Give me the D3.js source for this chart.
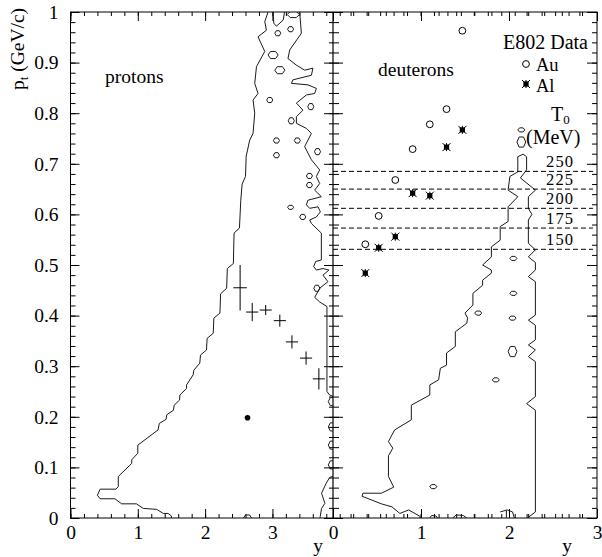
<!DOCTYPE html>
<html>
<head>
<meta charset="utf-8">
<script src="https://cdn.jsdelivr.net/npm/d3@7"></script>
<style>
  body { margin: 0; background: #fff; }
  text { font-family: "Liberation Serif", "Times New Roman", serif; fill: #000; }
</style>
</head>
<body>
<svg id="chart" width="602" height="557"></svg>
<script>
// ---------- data ----------
const ptTickValues = [0, 0.1, 0.2, 0.3, 0.4, 0.5, 0.6, 0.7, 0.8, 0.9, 1];
const yTickLeft = [0, 1, 2, 3];
const yTickRight = [0, 1, 2, 3];

// protons: measured points with error bars
const protonY    = [2.52, 2.70, 2.90, 3.11, 3.29, 3.50, 3.69];
const protonPt   = [0.455, 0.407, 0.411, 0.390, 0.348, 0.316, 0.275];
const protonErrY = [0.10, 0.09, 0.09, 0.09, 0.09, 0.09, 0.09];
const protonErrPt= [0.045, 0.018, 0.010, 0.012, 0.013, 0.013, 0.021];
const protonDot  = [[2.63, 0.198]];

// deuterons, E802 data
const deutY   = [0.367, 0.519, 0.708, 0.905, 1.10, 1.29, 1.47];
const auPt    = [0.541, 0.597, 0.668, 0.729, 0.778, 0.808, 0.963];
const alPt    = [0.484, 0.534, 0.556, 0.642, 0.637, 0.733, 0.767];

// freeze-out temperature lines
const t0Labels = ["250", "225", "200", "175", "150"];
const t0Pt     = [0.685, 0.650, 0.612, 0.573, 0.531];

// proton acceptance contour (rapidity, pt)
const protonEdgeLeft = [
  [1.50,0],[1.50,0.004],[1.45,0.009],[1.38,0.009],[1.28,0.017],[1.08,0.019],[0.98,0.028],
  [0.76,0.028],[0.66,0.038],[0.44,0.038],[0.40,0.045],[0.44,0.057],[0.675,0.057],
  [0.71,0.062],[0.71,0.082],[0.81,0.095],[0.91,0.108],[0.91,0.115],[1.0,0.128],[1.0,0.144],
  [1.30,0.174],[1.32,0.187],[1.42,0.195],[1.43,0.204],[1.53,0.213],[1.54,0.223],[1.62,0.233],
  [1.625,0.243],[1.724,0.256],[1.724,0.263],[1.822,0.283],[1.832,0.292],[1.921,0.306],
  [1.931,0.322],[2.02,0.332],[2.03,0.355],[2.12,0.365],[2.13,0.395],[2.22,0.405],[2.23,0.443],
  [2.32,0.454],[2.33,0.493],[2.42,0.503],[2.43,0.563],[2.51,0.573],[2.53,0.628],[2.55,0.66],
  [2.60,0.675],[2.61,0.715],[2.663,0.747],[2.712,0.760],[2.737,0.800],[2.712,0.826],
  [2.786,0.839],[2.737,0.859],[2.763,0.892],[2.886,0.922],[2.786,0.951],[2.911,0.964],
  [2.886,0.981],[2.935,1.0]
];
const protonEdgeRight = [
  [3.405,1.0],[3.430,0.958],[3.257,0.925],[3.231,0.908],[3.356,0.895],[3.479,0.885],
  [3.602,0.889],[3.579,0.875],[3.306,0.866],[3.282,0.859],[3.528,0.856],[3.653,0.849],
  [3.628,0.839],[3.504,0.836],[3.356,0.820],[3.454,0.806],[3.356,0.793],[3.356,0.780],
  [3.504,0.770],[3.579,0.760],[3.479,0.734],[3.579,0.708],[3.702,0.688],[3.653,0.675],
  [3.702,0.661],[3.628,0.648],[3.727,0.635],[3.528,0.628],[3.504,0.619],[3.553,0.612],
  [3.677,0.615],[3.712,0.605],[3.653,0.595],[3.553,0.589],[3.579,0.582],[3.727,0.563],
  [3.727,0.510],[3.643,0.507],[3.613,0.497],[3.653,0.490],[3.751,0.493],[3.840,0.490],
  [3.751,0.480],[3.825,0.467],[3.702,0.454],[3.628,0.436],[3.702,0.427],[3.810,0.418],
  [3.810,0.250],[3.850,0.243],[3.95,0.238]
];
const protonEdgeBottom = [
  [3.95,0.085],[3.85,0.080],[3.80,0.069],[3.73,0.049],[3.78,0.029],[3.73,0.019],[3.71,0.003],[3.71,0]
];
const protonEdgeArcs = [
  [[3.95,0.238],[3.86,0.238],[3.83,0.230],[3.86,0.222],[3.95,0.222]],
  [[3.95,0.188],[3.86,0.188],[3.83,0.180],[3.86,0.172],[3.95,0.172]],
  [[3.95,0.152],[3.86,0.152],[3.83,0.144],[3.86,0.136],[3.95,0.136]],
  [[3.95,0.113],[3.86,0.113],[3.83,0.105],[3.86,0.097],[3.95,0.097]],
  [[2.57,0],[2.60,0.006],[2.66,0.006],[2.69,0]],
  [[3.01,1.0],[3.02,0.978],[3.06,0.972],[3.16,0.984],[3.18,1.0]]
];
// closed islands: centre rapidity, centre pt, half-extent in rapidity, half-extent in pt
const protonIslands = [
  [3.08,0.958,0.045,0.005],[3.27,0.966,0.045,0.005],[3.01,0.915,0.075,0.007],
  [3.11,0.885,0.075,0.007],[2.96,0.826,0.045,0.005],[3.57,0.813,0.045,0.006],
  [3.28,0.785,0.045,0.006],[3.06,0.746,0.045,0.005],[3.37,0.746,0.045,0.005],
  [3.67,0.724,0.045,0.006],[3.06,0.717,0.045,0.005],[3.55,0.676,0.045,0.005],
  [3.55,0.658,0.045,0.005],[3.27,0.614,0.045,0.004],[3.45,0.595,0.045,0.005],
  [3.66,0.454,0.045,0.006],[3.31,0.995,0.09,0.006]
];

// deuteron acceptance contour
const deutEdge = [
  [0.99,0],[0.99,0.003],[0.86,0.016],[0.76,0.009],[0.67,0.022],[0.55,0.028],[0.33,0.043],
  [0.34,0.049],[0.55,0.049],[0.69,0.061],[0.63,0.082],[0.63,0.123],[0.68,0.138],[0.63,0.151],
  [0.70,0.174],[0.89,0.194],[0.89,0.223],[1.10,0.243],[1.10,0.263],[1.20,0.273],[1.22,0.296],
  [1.29,0.302],[1.29,0.326],[1.39,0.339],[1.39,0.368],[1.52,0.385],[1.53,0.395],[1.50,0.405],
  [1.59,0.421],[1.59,0.444],[1.70,0.460],[1.70,0.470],[1.80,0.484],[1.80,0.490],[1.70,0.500],
  [1.80,0.516],[1.80,0.536],[1.90,0.549],[1.90,0.576],[1.99,0.586],[1.99,0.615],[2.10,0.635],
  [1.99,0.648],[2.01,0.675],[2.10,0.684],[2.10,0.714],[2.16,0.719],[2.20,0.714],[2.20,0.688],
  [2.13,0.672],[2.30,0.648],[2.22,0.635],[2.22,0.612],[2.26,0.600],[2.22,0.589],[2.22,0.543],
  [2.30,0.530],[2.22,0.516],[2.30,0.505],[2.30,0.490],[2.22,0.477],[2.30,0.467],[2.30,0.401],
  [2.22,0.391],[2.30,0.381],[2.30,0.352],[2.22,0.342],[2.30,0.332],[2.22,0.319],[2.30,0.309],
  [2.30,0.240],[2.20,0.226],[2.30,0.213],[2.30,0.012],[2.21,0]
];
const deutEdgeBits = [
  [[1.10,0],[1.12,0.005],[1.17,0.004],[1.19,0]],
  [[1.36,0],[1.40,0.006],[1.48,0.005],[1.52,0]],
  [[1.90,0.012],[1.98,0.016],[2.04,0.012],[2.06,0]],
  [[1.97,0],[1.97,0.015]]
];
const deutIslands = [
  [2.14,0.767,0.04,0.004],[2.14,0.743,0.05,0.010],[2.05,0.513,0.04,0.004],
  [2.05,0.444,0.04,0.004],[1.65,0.405,0.04,0.004],[2.04,0.395,0.04,0.004],
  [2.04,0.329,0.05,0.010],[1.85,0.273,0.04,0.004],[1.14,0.062,0.04,0.004]
];

// ---------- layout ----------
const svg = d3.select("#chart");
const plotTop = 12, plotBottom = 518, plotLeft = 70.5, plotMid = 333, plotRight = 597;
const FONT = 19.5;

const yPt = d3.scaleLinear().domain([0, 1]).range([plotBottom, plotTop]);
const xL  = d3.scaleLinear().domain([0, 3.9]).range([plotLeft, plotMid]);
const xR  = d3.scaleLinear().domain([0, 3]).range([plotMid, plotRight]);

const minorL  = d3.range(0, 39).map(i => i / 5);           // every 0.2 up to 3.8
const minorR  = d3.range(0, 16).map(i => i / 5);
const minorPt = d3.range(0, 51).map(i => i / 50);

const defs = svg.append("defs");
defs.append("clipPath").attr("id", "clipL").append("rect")
  .attr("x", plotLeft).attr("y", plotTop).attr("width", plotMid - plotLeft).attr("height", plotBottom - plotTop);
defs.append("clipPath").attr("id", "clipR").append("rect")
  .attr("x", plotMid).attr("y", plotTop).attr("width", plotRight - plotMid).attr("height", plotBottom - plotTop);

function axisGroup(axis, tx, ty, labels) {
  const g = svg.append("g").attr("transform", `translate(${tx},${ty})`).call(axis);
  g.select(".domain").remove();
  g.selectAll(".tick line").attr("stroke", "#000").attr("stroke-width", 1);
  g.selectAll("text").attr("font-family", '"Liberation Serif", serif').attr("font-size", FONT).attr("fill", "#000");
  if (!labels) g.selectAll("text").remove();
  return g;
}
const fmt = d3.format("~g");

// bottom axes
axisGroup(d3.axisBottom(xL).tickValues(minorL).tickSize(-4).tickFormat(""), 0, plotBottom, false);
axisGroup(d3.axisBottom(xL).tickValues(yTickLeft).tickSize(-9).tickPadding(7).tickFormat(fmt), 0, plotBottom, true);
axisGroup(d3.axisBottom(xR).tickValues(minorR).tickSize(-4).tickFormat(""), 0, plotBottom, false);
axisGroup(d3.axisBottom(xR).tickValues(yTickRight).tickSize(-9).tickPadding(7).tickFormat(fmt), 0, plotBottom, true);
// top axes
axisGroup(d3.axisTop(xL).tickValues(minorL).tickSize(-4).tickFormat(""), 0, plotTop, false);
axisGroup(d3.axisTop(xL).tickValues(yTickLeft).tickSize(-9).tickFormat(""), 0, plotTop, false);
axisGroup(d3.axisTop(xR).tickValues(minorR).tickSize(-4).tickFormat(""), 0, plotTop, false);
axisGroup(d3.axisTop(xR).tickValues(yTickRight).tickSize(-9).tickFormat(""), 0, plotTop, false);
// left axis with labels
axisGroup(d3.axisLeft(yPt).tickValues(minorPt).tickSize(-5).tickFormat(""), plotLeft, 0, false);
axisGroup(d3.axisLeft(yPt).tickValues(ptTickValues).tickSize(-9).tickPadding(12).tickFormat(fmt), plotLeft, 0, true);
// shared middle axis: ticks on both sides
axisGroup(d3.axisRight(yPt).tickValues(minorPt).tickSize(-4).tickFormat(""), plotMid, 0, false);
axisGroup(d3.axisRight(yPt).tickValues(ptTickValues).tickSize(-9).tickFormat(""), plotMid, 0, false);
axisGroup(d3.axisLeft(yPt).tickValues(minorPt).tickSize(-6).tickFormat(""), plotMid, 0, false);
axisGroup(d3.axisLeft(yPt).tickValues(ptTickValues).tickSize(-10).tickFormat(""), plotMid, 0, false);
// right axis
axisGroup(d3.axisRight(yPt).tickValues(minorPt).tickSize(-5).tickFormat(""), plotRight, 0, false);
axisGroup(d3.axisRight(yPt).tickValues(ptTickValues).tickSize(-10).tickFormat(""), plotRight, 0, false);

// frames
svg.append("rect").attr("x", plotLeft).attr("y", plotTop)
  .attr("width", plotRight - plotLeft).attr("height", plotBottom - plotTop)
  .attr("fill", "none").attr("stroke", "#000").attr("stroke-width", 1);
svg.append("line").attr("x1", plotMid).attr("x2", plotMid).attr("y1", plotTop).attr("y2", plotBottom)
  .attr("stroke", "#000").attr("stroke-width", 1.2);

// ---------- contours ----------
function drawContours(clip, xs, edges, islands) {
  const g = svg.append("g").attr("clip-path", `url(#${clip})`)
    .attr("fill", "none").attr("stroke", "#1a1a1a").attr("stroke-width", 1);
  const line = d3.line().x(d => xs(d[0])).y(d => yPt(d[1]));
  edges.forEach(e => g.append("path").attr("d", line(e)));
  const closed = d3.line().x(d => xs(d[0])).y(d => yPt(d[1])).curve(d3.curveLinearClosed);
  islands.forEach(([cy, cp, hy, hp]) => {
    const pts = [[cy - hy, cp], [cy - hy * 0.5, cp + hp], [cy + hy * 0.5, cp + hp],
                 [cy + hy, cp], [cy + hy * 0.5, cp - hp], [cy - hy * 0.5, cp - hp]];
    g.append("path").attr("d", closed(pts));
  });
  return g;
}
drawContours("clipL", xL, [protonEdgeLeft, protonEdgeRight, protonEdgeBottom, ...protonEdgeArcs], protonIslands);
drawContours("clipR", xR, [deutEdge, ...deutEdgeBits], deutIslands);

// ---------- T0 lines ----------
const tg = svg.append("g");
t0Pt.forEach((p, i) => {
  tg.append("line").attr("x1", plotMid).attr("x2", plotRight - 4)
    .attr("y1", yPt(p)).attr("y2", yPt(p))
    .attr("stroke", "#000").attr("stroke-width", 1).attr("stroke-dasharray", "5,3");
  tg.append("text").attr("x", 546).attr("y", yPt(p) - 4)
    .attr("font-size", 16.5).attr("textLength", 27).text(t0Labels[i]);
});

// ---------- proton points ----------
const pg = svg.append("g").attr("stroke", "#000").attr("stroke-width", 1);
protonY.forEach((yv, i) => {
  const p = protonPt[i];
  pg.append("line").attr("x1", xL(yv - protonErrY[i])).attr("x2", xL(yv + protonErrY[i]))
    .attr("y1", yPt(p)).attr("y2", yPt(p));
  pg.append("line").attr("x1", xL(yv)).attr("x2", xL(yv))
    .attr("y1", yPt(p - protonErrPt[i])).attr("y2", yPt(p + protonErrPt[i]));
});
svg.selectAll(".pdot").data(protonDot).join("circle")
  .attr("cx", d => xL(d[0])).attr("cy", d => yPt(d[1])).attr("r", 2.8).attr("fill", "#000");

// ---------- deuteron points ----------
function drawAu(g, cx, cy) {
  g.append("circle").attr("cx", cx).attr("cy", cy).attr("r", 3.4)
    .attr("fill", "#fff").attr("stroke", "#000").attr("stroke-width", 1);
}
function drawAl(g, cx, cy) {
  g.append("rect").attr("x", cx - 2.6).attr("y", cy - 2.6).attr("width", 5.2).attr("height", 5.2).attr("fill", "#000");
  g.append("path").attr("d", `M${cx-4},${cy-4}L${cx+4},${cy+4}M${cx-4},${cy+4}L${cx+4},${cy-4}M${cx},${cy-4}L${cx},${cy+4}`)
    .attr("stroke", "#000").attr("stroke-width", 1);
}
const dg = svg.append("g");
deutY.forEach((yv, i) => drawAu(dg, xR(yv), yPt(auPt[i])));
deutY.forEach((yv, i) => drawAl(dg, xR(yv), yPt(alPt[i])));

// ---------- labels ----------
svg.append("text").attr("x", 105).attr("y", 83).attr("font-size", FONT).text("protons");
svg.append("text").attr("x", 378).attr("y", 76).attr("font-size", FONT).text("deuterons");
svg.append("text").attr("x", 503).attr("y", 49).attr("font-size", 20).text("E802 Data");
drawAu(svg, 526, 64);
svg.append("text").attr("x", 536).attr("y", 70.5).attr("font-size", 18.5).text("Au");
drawAl(svg, 526, 84);
svg.append("text").attr("x", 536).attr("y", 91.5).attr("font-size", 18.5).text("Al");
const t0 = svg.append("text").attr("x", 551).attr("y", 121).attr("font-size", 20);
t0.append("tspan").text("T");
t0.append("tspan").attr("font-size", 13).attr("dy", 3).text("0");
svg.append("text").attr("x", 526).attr("y", 144).attr("font-size", 20).text("(MeV)");

// axis titles
svg.append("text").attr("x", 318).attr("y", 552).attr("text-anchor", "middle").attr("font-size", FONT).text("y");
svg.append("text").attr("x", 567).attr("y", 552).attr("text-anchor", "middle").attr("font-size", FONT).text("y");
const yl = svg.append("text").attr("transform", "translate(24,49) rotate(-90)")
  .attr("text-anchor", "middle").attr("font-size", FONT);
yl.append("tspan").text("p");
yl.append("tspan").attr("font-size", 13).attr("dy", 4).text("t");
yl.append("tspan").attr("dy", -4).text(" (GeV/c)");
</script>
</body>
</html>
